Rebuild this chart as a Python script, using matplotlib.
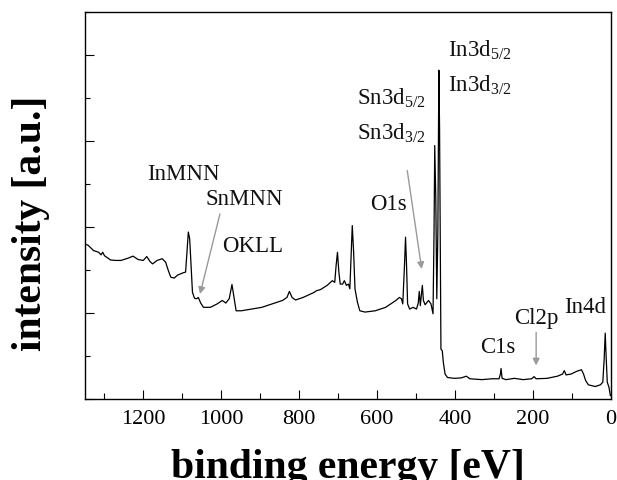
import matplotlib
matplotlib.use("Agg")
import matplotlib.pyplot as plt
from matplotlib.ticker import MultipleLocator, NullFormatter

plt.rcParams["font.family"] = ["Liberation Serif", "DejaVu Serif"]
plt.rcParams["mathtext.fontset"] = "custom"
plt.rcParams["mathtext.rm"] = "Liberation Serif"
plt.rcParams["mathtext.it"] = "Liberation Serif:italic"

# XPS survey spectrum: binding energy (eV) and intensity (a.u.)
binding_energy = [
    1350, 1341.6, 1328.3, 1315.1, 1308.9, 1304.5, 1300.1, 1284.2, 1271.0, 1257.7,
    1240.1, 1226.8, 1213.6, 1200.4, 1191.5, 1182.7, 1176.5, 1165.0, 1151.8, 1143.0,
    1135.9, 1129.7, 1120.9, 1112.1, 1098.8, 1091.7, 1088.2, 1084.7, 1081.2, 1077.6,
    1074.1, 1068.8, 1063.5, 1059.1, 1052.9, 1045.9, 1028.2, 1010.6, 997.4, 988.5,
    979.7, 972.6, 968.2, 962.0, 948.8, 922.3, 895.9, 869.4, 842.9, 831.4,
    825.2, 818.2, 809.4, 790.0, 763.5, 754.6, 745.8, 728.2, 714.9, 708.7,
    705.2, 701.7, 698.1, 694.6, 688.4, 684.0, 678.7, 673.4, 669.9, 666.4,
    663.7, 660.2, 656.7, 650.5, 644.3, 631.1, 604.6, 578.1, 551.6, 542.8,
    537.5, 534.0, 529.6, 526.9, 524.3, 521.6, 516.3, 507.5, 498.7, 494.3,
    491.6, 489.0, 486.3, 483.7, 481.0, 476.6, 467.8, 461.6, 456.3, 453.7,
    451.9, 449.2, 446.6, 443.9, 441.3, 439.5, 437.8, 436.0, 432.5, 429.8,
    425.4, 419.2, 401.6, 383.9, 370.7, 361.9, 331.0, 304.5, 286.8, 283.3,
    281.6, 278.9, 269.2, 247.1, 225.1, 203.0, 196.8, 191.5, 163.3, 136.8,
    123.6, 119.2, 114.7, 101.5, 88.3, 75.0, 69.8, 64.4, 57.4, 39.7,
    26.5, 20.3, 16.8, 14.1, 11.5, 8.8, 4.4, 0.9,
]
intensity = [
    3.60, 3.57, 3.45, 3.41, 3.35, 3.41, 3.33, 3.23, 3.22, 3.22,
    3.27, 3.32, 3.24, 3.22, 3.31, 3.19, 3.14, 3.22, 3.26, 3.18,
    2.98, 2.83, 2.81, 2.88, 2.93, 2.95, 3.41, 3.88, 3.72, 3.10,
    2.48, 2.34, 2.33, 2.36, 2.23, 2.13, 2.13, 2.21, 2.29, 2.23,
    2.33, 2.66, 2.40, 2.05, 2.05, 2.09, 2.13, 2.21, 2.29, 2.36,
    2.50, 2.36, 2.30, 2.36, 2.47, 2.52, 2.54, 2.64, 2.75, 2.71,
    3.10, 3.41, 2.95, 2.67, 2.67, 2.75, 2.64, 2.67, 2.56, 3.41,
    4.03, 3.41, 2.56, 2.25, 2.05, 2.02, 2.05, 2.13, 2.29, 2.36,
    2.33, 2.21, 3.10, 3.76, 3.10, 2.21, 2.09, 2.13, 2.09, 2.23,
    2.50, 2.17, 2.40, 2.64, 2.29, 2.19, 2.29, 2.21, 1.98, 3.88,
    5.89, 4.65, 2.33, 3.88, 7.64, 6.28, 3.88, 1.16, 1.12, 0.85,
    0.58, 0.50, 0.48, 0.49, 0.53, 0.47, 0.45, 0.47, 0.47, 0.58,
    0.71, 0.48, 0.45, 0.48, 0.45, 0.47, 0.52, 0.47, 0.48, 0.53,
    0.58, 0.66, 0.56, 0.58, 0.64, 0.68, 0.58, 0.43, 0.33, 0.29,
    0.33, 0.39, 0.93, 1.53, 0.93, 0.39, 0.27, 0.08,
]

# Peak labels: text, anchor energy, anchor intensity (left/baseline)
peak_labels = ["InMNN", "SnMNN", "OKLL", "O1s",
               r"Sn3d$_{\mathrm{5/2}}$", r"Sn3d$_{\mathrm{3/2}}$",
               r"In3d$_{\mathrm{5/2}}$", r"In3d$_{\mathrm{3/2}}$",
               "C1s", "Cl2p", "In4d"]
label_energy = [1191.5, 1041.5, 997, 618, 650.5, 650.5, 419, 419, 335, 247, 119]
label_intensity = [5.12, 4.53, 3.45, 4.42, 6.86, 6.05, 7.98, 7.17, 1.09, 1.76, 2.02]

# Pointer arrows: (start energy, start intensity) -> (end energy, end intensity)
arrow_start_energy = [1003.5, 522.5, 191.5]
arrow_start_intensity = [4.30, 5.31, 1.55]
arrow_end_energy = [1054.7, 485.4, 191.5]
arrow_end_intensity = [2.44, 3.02, 0.78]

fig = plt.figure(figsize=(6.17, 4.81), dpi=100)
ax = fig.add_axes([0.1378, 0.1684, 0.852, 0.8052])

ax.plot(binding_energy, intensity, color="black", lw=0.9)

ax.set_xlim(1350, 0)
ax.set_ylim(0, 9.0)

ax.xaxis.set_major_locator(MultipleLocator(200))
ax.xaxis.set_minor_locator(MultipleLocator(100))
ax.yaxis.set_major_locator(MultipleLocator(2))
ax.yaxis.set_minor_locator(MultipleLocator(1))
ax.yaxis.set_major_formatter(NullFormatter())

ax.tick_params(axis="both", which="major", direction="in", length=6.5, width=0.8,
               labelsize=16, pad=7)
ax.tick_params(axis="both", which="minor", direction="in", length=4.0, width=0.8)
ax.tick_params(axis="y", which="major", length=6.5)
ax.tick_params(axis="y", which="minor", length=3.8)
for s in ax.spines.values():
    s.set_linewidth(1.0)

for txt, ex, iy in zip(peak_labels, label_energy, label_intensity):
    ax.text(ex, iy, txt, fontsize=16.5, ha="left", va="baseline", color="#111111")

for sx, sy, ex, ey in zip(arrow_start_energy, arrow_start_intensity,
                          arrow_end_energy, arrow_end_intensity):
    ax.annotate("", xy=(ex, ey), xytext=(sx, sy),
                arrowprops=dict(arrowstyle="-|>", color="#9a9a9a", lw=1.0,
                                mutation_scale=10, shrinkA=0, shrinkB=0))

fig.text(0.5636, (481 - 478) / 481, "binding energy [eV]", fontsize=30,
         fontweight="bold", ha="center", va="baseline")
fig.text(31.5 / 617, 1 - 223 / 481, "intensity [a.u.]", fontsize=30,
         fontweight="bold", rotation=90, ha="center", va="center")

fig.savefig("out.png", dpi=100)
